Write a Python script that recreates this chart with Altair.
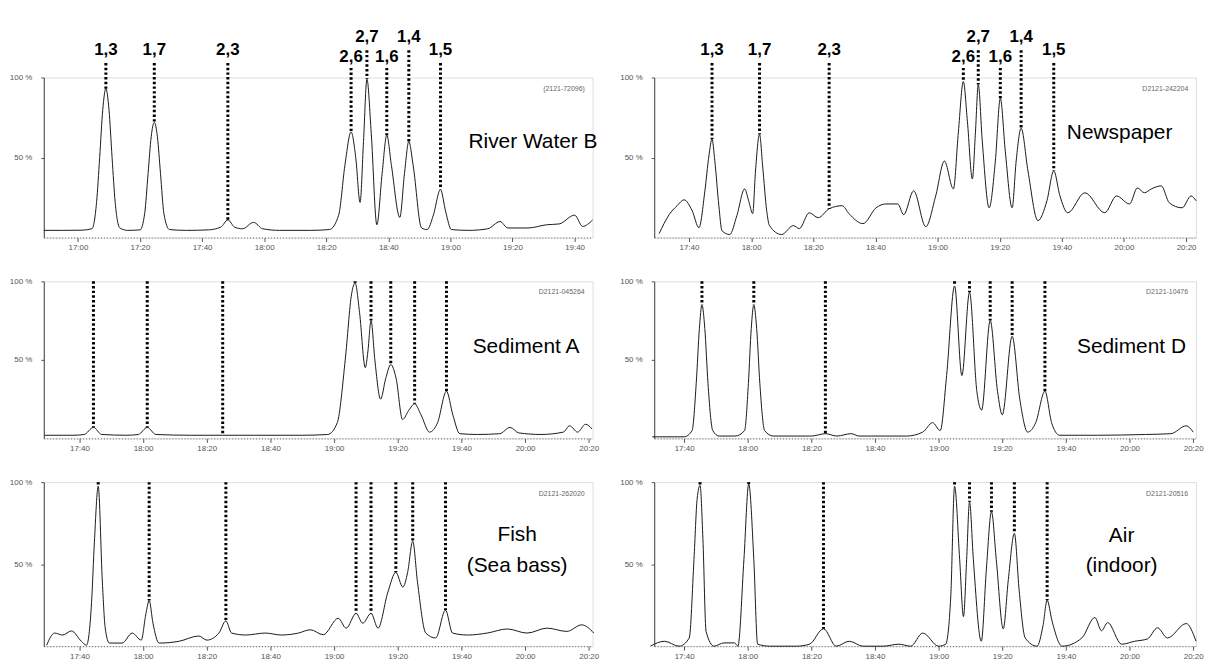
import altair as alt
import pandas as pd

PEAKS = ["1,3", "1,7", "2,3", "2,6", "2,7", "1,6", "1,4", "1,5"]
# label heights (percent units, above the 100 % frame) for the top row
LABEL_V = [117, 117, 117, 113, 125, 113, 125, 117]
RULE_TOP = [109, 109, 109, 106, 117, 106, 117, 109]

# ---- River Water B (time in seconds, intensity in %) ----
RW_T = [1009, 1015, 1021, 1024.5, 1026, 1027, 1028, 1029, 1030, 1031, 1032, 1033.5, 1036, 1040,
        1041.5, 1042.6, 1043.6, 1044.6, 1045.6, 1046.6, 1047.7, 1049.5, 1055, 1062, 1066, 1068.3,
        1070.5, 1073, 1076.6, 1079.5, 1085, 1095, 1101, 1104, 1106, 1108, 1109.5, 1110.9, 1112,
        1113.1, 1114.5, 1116.3, 1118, 1119.5, 1121, 1123.7, 1125.2, 1126.6, 1128, 1130.7, 1132.5,
        1134.5, 1136.8, 1138.5, 1140.3, 1146, 1152, 1156, 1158.5, 1165, 1171, 1175, 1180, 1182.6, 1185.8]
RW_V = [4.5, 4.5, 4.6, 5.5, 22, 50, 80, 93, 80, 50, 22, 6, 4.5, 4.8,
        15, 40, 63, 72, 63, 40, 15, 5, 4.5, 4.8, 6.5, 11,
        6.5, 5.5, 9.5, 5.5, 4.5, 4.5, 5, 14, 45, 66, 50, 22, 60,
        99, 65, 8, 40, 64, 45, 12.6, 40, 60, 45, 6, 5,
        14, 30, 16, 5, 4.5, 5.5, 10, 6, 6, 8, 8.5, 14, 7, 11]
RW_PEAK_T = [1029, 1044.6, 1068.3, 1108, 1113.1, 1119.5, 1126.6, 1136.8]
RW_PEAK_V = [93, 72, 11, 66, 99, 64, 60, 30]

# ---- Newspaper ----
NP_T = [1050.4, 1053.6, 1056.2, 1058.4, 1061, 1063.2, 1065.1, 1066.4, 1067.4, 1068.3, 1069.6, 1070.6,
        1073.1, 1075.4, 1077.9, 1079.2, 1080.5, 1081.4, 1082.7, 1083.7, 1085, 1085.9, 1089.8, 1093.6,
        1095.5, 1098.7, 1101.6, 1105.1, 1109.3, 1111.5, 1116, 1120.2, 1123.4, 1127.2, 1129.1, 1132.3,
        1136.2, 1139.4, 1142.2, 1145.1, 1146.7, 1148.3, 1149.6, 1151.2, 1152.2, 1153.1, 1154.4, 1156.6,
        1158.6, 1160.2, 1161.8, 1164, 1165.3, 1166.9, 1169.1, 1172.3, 1175.2, 1177.4, 1179.4, 1181.9,
        1187.4, 1193.8, 1197.6, 1201.8, 1204.3, 1206.6, 1208.8, 1212, 1214.6, 1218.7, 1221.6, 1223.2]
NP_V = [2.5, 14.3, 20, 23.6, 16.8, 6.2, 29, 51, 61.5, 48, 20, 4.3,
        1.9, 13.7, 30.4, 23, 15, 41.6, 64.6, 44.7, 16.8, 7.5, 1.9, 7.5,
        5.6, 15.5, 12.4, 18, 19.9, 14.9, 8.7, 18.6, 21, 21, 14.3, 29.2,
        6.8, 26, 47.8, 30.4, 66, 97.5, 72.7, 36.6, 66, 95.6, 60, 18.6,
        47.8, 87, 54, 18.6, 47.8, 68.3, 41.6, 10.6, 23, 41.6, 26, 15.5,
        28, 15.5, 26, 21, 31, 28, 30.4, 32.3, 21.7, 18.6, 26, 23]
NP_PEAK_T = [1067.4, 1082.7, 1105.1, 1148.3, 1153.1, 1160.2, 1166.9, 1177.4]
NP_PEAK_V = [61.5, 64.6, 18, 97.5, 95.6, 87, 68.3, 41.6]

# ---- Sediment A ----
SA_T = [1049, 1058, 1061.5, 1064.4, 1067, 1075, 1078.5, 1081.3, 1084, 1095, 1105, 1115, 1130, 1138,
        1141, 1143.5, 1145.5, 1146.6, 1148, 1149.8, 1150.6, 1151.6, 1152.8, 1154.6, 1156.2, 1157.8,
        1159.5, 1161.5, 1163.5, 1165.3, 1167.3, 1170, 1172.5, 1175.3, 1177.3, 1179.5, 1185, 1192,
        1195.3, 1198, 1205, 1212, 1214, 1216.5, 1219, 1221]
SA_V = [2, 2, 2.5, 7, 2.5, 2, 2.5, 7, 2.5, 2, 2, 2, 2, 2.5,
        10, 50, 92, 99, 80, 45, 55, 75, 50, 25, 38, 47,
        38, 12, 18, 22, 15, 4, 10, 30, 15, 3, 2.5, 3,
        7, 3.5, 2.5, 4, 8, 4, 9, 6]
SA_PEAK_T = [1064.4, 1081.3, 1105, 1146.6, 1151.6, 1157.8, 1165.3, 1175.3]
SA_PEAK_V = [7, 7, 2, 99, 75, 47, 22, 30]

# ---- Sediment D ----
SD_T = [1050, 1060, 1062.5, 1063.8, 1064.8, 1065.6, 1066.5, 1067.5, 1069, 1071, 1076, 1079, 1080.2,
        1081.1, 1081.9, 1082.8, 1083.8, 1085.3, 1088, 1100, 1104.4, 1108, 1112.5, 1115, 1130, 1135,
        1138.1, 1140.5, 1142.5, 1145, 1147.3, 1149.7, 1152, 1153.5, 1156.2, 1158.5, 1160, 1163.1,
        1165.5, 1168, 1170.5, 1173.4, 1175.5, 1178, 1190, 1205, 1213, 1217.8, 1220]
SD_V = [1, 1, 5, 35, 70, 85, 70, 35, 5, 1.5, 1.5, 5, 35,
        70, 85, 70, 35, 5, 1.5, 1.5, 3, 1.5, 3, 1.5, 1.5, 4,
        10, 5, 40, 97, 40, 93, 30, 18, 75, 30, 15, 65,
        25, 4, 10, 30, 10, 2, 2, 2.5, 3, 8, 4]
SD_PEAK_T = [1065.6, 1081.9, 1104.4, 1145, 1149.7, 1156.2, 1163.1, 1173.4]
SD_PEAK_V = [85, 85, 3, 97, 93, 75, 65, 30]

# ---- Fish (Sea bass) ----
FS_T = [1049.7, 1052.2, 1054.7, 1057.5, 1060.6, 1062.2, 1063.8, 1064.7, 1065.9, 1067.2, 1068.1,
        1069.4, 1073.4, 1076.6, 1079.4, 1080.9, 1081.9, 1083.1, 1085, 1091.3, 1097.5, 1100, 1103.8,
        1106, 1107.8, 1112.2, 1118.4, 1123.4, 1128.8, 1132.5, 1136.6, 1141.3, 1143.8, 1146.9, 1149,
        1151.6, 1153.8, 1156.9, 1159.4, 1161.6, 1163.1, 1164.7, 1166.2, 1168.8, 1171.9, 1175, 1177.2,
        1181.9, 1188.1, 1194.4, 1200.6, 1206.9, 1213.1, 1217.8, 1221.6]
FS_V = [0.6, 8, 6.8, 9.3, 3, 0.6, 26.5, 63.6, 97.5, 39, 11,
        1.9, 1.9, 8, 3.7, 20, 27.8, 14, 1.9, 3, 6.2, 3.7, 8,
        15.4, 8, 6.8, 8, 6.8, 8, 10, 7, 17, 11, 20, 14,
        20, 11, 33, 45, 36, 45, 64, 39, 8, 5, 22, 8,
        6.8, 8, 10.5, 8, 11, 9, 13, 8]
FS_PEAK_T = [1065.9, 1081.9, 1106, 1146.9, 1151.6, 1159.4, 1164.7, 1175]
FS_PEAK_V = [97.5, 27.8, 15.4, 20, 20, 45, 64, 22]

# ---- Air (indoor) ----
AR_T = [1049.4, 1053.8, 1058.4, 1061.6, 1063.1, 1064.1, 1065, 1065.9, 1066.9, 1069.4, 1072.5, 1075.9,
        1076.9, 1078.8, 1080.3, 1081.9, 1083.1, 1086.9, 1091.2, 1095.3, 1099.4, 1103.8, 1107.8, 1111.9,
        1116.2, 1122.5, 1127.5, 1131.2, 1135, 1140, 1142.2, 1143.8, 1145, 1146.6, 1147.8, 1148.8,
        1149.7, 1150.9, 1153.4, 1155, 1156.6, 1158.1, 1160.3, 1161.9, 1163.8, 1165.3, 1167.2, 1170.9,
        1172.8, 1174.1, 1175.6, 1178.8, 1185, 1189.1, 1191.2, 1193.1, 1197.5, 1201.6, 1205.6, 1208.8,
        1211.9, 1217.8, 1220.9]
AR_V = [0, 3, 0, 5, 53, 90, 98, 65.6, 9, 0, 2, 2,
        0, 53, 98.8, 53, 1.2, 0, 0, 0, 1.2, 10.6, 0, 3,
        0, 0, 1.2, 0, 8, 0, 1.2, 30, 97.5, 53, 18, 53,
        88, 53, 3, 47, 82, 53, 10.6, 40.6, 68.8, 34, 5, 0,
        12.5, 28, 15.6, 0, 5, 17.5, 9.4, 14.4, 1.2, 3, 4.4, 11.2,
        5, 13.8, 3]
AR_PEAK_T = [1065, 1080.3, 1103.8, 1145, 1149.7, 1156.6, 1163.8, 1174.1]
AR_PEAK_V = [98, 98.8, 10.6, 97.5, 88, 82, 68.8, 28]

TICKS_A = [1020, 1040, 1060, 1080, 1100, 1120, 1140, 1160, 1180]
TICKS_B = [1060, 1080, 1100, 1120, 1140, 1160, 1180, 1200, 1220]

FONT = "Liberation Sans"
TIME_EXPR = "floor(datum.value / 60) + ':' + (datum.value % 60 < 10 ? '0' : '') + (datum.value % 60)"


def panel(t, v, pt, pv, domain, ticks, width, height, texts, id_text, top_row):
    df = pd.DataFrame({"t": t, "v": v})
    x = alt.X("t:Q", scale=alt.Scale(domain=domain, nice=False, zero=False),
              axis=alt.Axis(values=ticks, labelExpr=TIME_EXPR, title=None, grid=False,
                            labelFontSize=8, labelColor="#555", tickSize=4, tickColor="#555",
                            domainColor="#666", domainDash=[1, 2], labelPadding=2))
    y = alt.Y("v:Q", scale=alt.Scale(domain=[0, 100], nice=False, zero=False),
              axis=alt.Axis(values=[50, 100], labelExpr="datum.value + ' %'", title=None,
                            grid=False, labelFontSize=8, labelColor="#555", tickSize=3,
                            tickColor="#555", domainColor="#444", labelPadding=9))
    line = alt.Chart(df).mark_line(color="#1a1a1a", strokeWidth=1, interpolate="monotone").encode(x=x, y=y)

    if top_row:
        tops = RULE_TOP
    else:
        tops = [100] * len(PEAKS)
    mdf = pd.DataFrame({"t": pt, "apex": pv, "top": tops, "name": PEAKS, "lab": LABEL_V})
    rules = alt.Chart(mdf).mark_rule(color="#000", strokeWidth=3, strokeDash=[2.4, 2.3]).encode(
        x="t:Q", y="top:Q", y2="apex:Q")
    layers = [line, rules]
    if top_row:
        labs = alt.Chart(mdf).mark_text(font=FONT, fontSize=17, fontWeight="bold", color="#000").encode(
            x="t:Q", y="lab:Q", text="name:N")
        layers.append(labs)

    tdf = pd.DataFrame(texts, columns=["t", "v", "txt"])
    name = alt.Chart(tdf).mark_text(font=FONT, fontSize=21, color="#000").encode(
        x="t:Q", y="v:Q", text="txt:N")
    layers.append(name)

    idf = pd.DataFrame({"t": [domain[1] - 2.5], "v": [93], "txt": [id_text]})
    ident = alt.Chart(idf).mark_text(font=FONT, fontSize=7, color="#666", align="right").encode(
        x="t:Q", y="v:Q", text="txt:N")
    layers.append(ident)
    return alt.layer(*layers).properties(width=width, height=height)


tl = panel(RW_T, RW_V, RW_PEAK_T, RW_PEAK_V, [1009, 1185.8], TICKS_A, 552, 161,
           [(1166.6, 60, "River Water B")], "(2121-72096)", True)
tr = panel(NP_T, NP_V, NP_PEAK_T, NP_PEAK_V, [1048.8, 1223.2], TICKS_B, 545, 161,
           [(1198.6, 65, "Newspaper")], "D2121-242204", True)
ml = panel(SA_T, SA_V, SA_PEAK_T, SA_PEAK_V, [1048.8, 1221.2], TICKS_B, 552, 158,
           [(1200.3, 58, "Sediment A")], "D2121-045264", False)
mr = panel(SD_T, SD_V, SD_PEAK_T, SD_PEAK_V, [1050.6, 1220.9], TICKS_B, 545, 158,
           [(1200.6, 58, "Sediment D")], "D2121-10476", False)
bl = panel(FS_T, FS_V, FS_PEAK_T, FS_PEAK_V, [1048.8, 1221.2], TICKS_B, 552, 165,
           [(1197.5, 68, "Fish"), (1197.5, 49, "(Sea bass)")], "D2121-262020", False)
br = panel(AR_T, AR_V, AR_PEAK_T, AR_PEAK_V, [1050.6, 1220.9], TICKS_B, 545, 165,
           [(1197.5, 67, "Air"), (1197.5, 49, "(indoor)")], "D2121-20516", False)

chart = alt.ConcatChart(
    concat=[tl, tr, ml, mr, bl, br], columns=2,
    spacing=alt.RowColnumber(row=44, column=62), bounds="flush",
).properties(
    padding={"left": 0, "top": 18, "right": 0, "bottom": 0},
    background="#ffffff",
).configure_view(stroke="#777", strokeDash=[1, 2], strokeWidth=1).configure(font=FONT)

chart.save("out.html", embed_options={"renderer": "svg", "actions": False})
